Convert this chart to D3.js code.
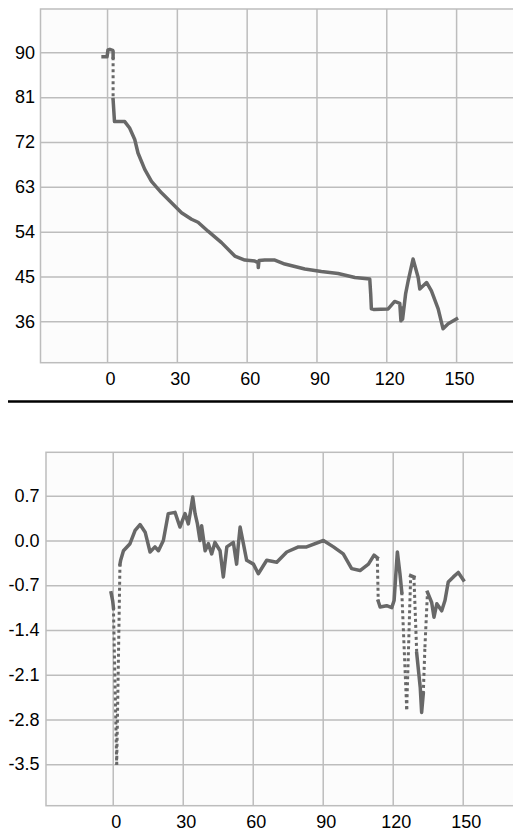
<!DOCTYPE html>
<html>
<head>
<meta charset="utf-8">
<script src="https://cdn.jsdelivr.net/npm/d3@7"></script>
<style>
  body { margin: 0; background: #ffffff; }
  .tick text { font-family: "Liberation Sans", Arial, sans-serif; font-size: 18px; fill: #000; }
</style>
</head>
<body>
<div id="chart"></div>
<script>
// x ticks shared by both panels
var xTicks = [0, 30, 60, 90, 120, 150];
var xLabels = ["0", "30", "60", "90", "120", "150"];

// top panel
var topTicks = [36, 45, 54, 63, 72, 81, 90];
var topLabels = ["36", "45", "54", "63", "72", "81", "90"];
var topX = [-1.7, 0.0, 0.4, 1.2, 2.4, 2.6, 2.6, 2.6, 3.2, 7.6, 9.7, 11.9, 13.3, 16.2, 19.1, 23.4, 27.7,
  32.0, 36.3, 39.1, 43.4, 49.2, 54.9, 59.2, 63.5, 64.9, 65.0, 65.3, 67.8, 72.1, 76.4, 85.0, 92.1,
  99.3, 106.5, 112.9, 113.3, 113.6, 114.5, 120.8, 123.6, 125.8, 126.3, 126.6, 127.0, 128.3, 129.4,
  131.5, 133.7, 134.4, 137.3, 139.4, 142.3, 144.4, 146.6, 150.2];
var topY = [89.1, 89.1, 90.5, 90.6, 90.4, 90.2, 89.0, 80.5, 76.1, 76.1, 74.8, 72.5, 69.8, 66.5, 64.1, 61.8, 59.8,
  57.8, 56.5, 55.9, 54.1, 51.8, 49.1, 48.3, 48.1, 47.8, 46.8, 48.2, 48.3, 48.3, 47.5, 46.5, 46.0,
  45.6, 44.8, 44.5, 41.5, 38.5, 38.4, 38.5, 40.0, 39.6, 36.1, 38.7, 36.4, 41.5, 44.1,
  48.5, 44.8, 42.5, 43.8, 42.1, 38.5, 34.5, 35.5, 36.5];

// bottom panel
var botTicks = [-3.5, -2.8, -2.1, -1.4, -0.7, 0.0, 0.7];
var botLabels = ["-3.5", "-2.8", "-2.1", "-1.4", "-0.7", "0.0", "0.7"];
var botX = [-0.7, 0.0, 0.3, 1.7, 3.1, 3.4, 4.6, 7.4, 9.6, 11.7, 13.9, 16.0, 18.1, 19.6, 21.7, 23.8,
  26.7, 28.8, 31.0, 32.4, 33.4, 34.3, 35.3, 36.3, 37.4, 38.1, 39.6, 41.0, 42.4, 43.8, 46.0, 47.4,
  48.9, 51.7, 53.1, 53.8, 54.6, 56.0, 57.4, 60.3, 62.4, 66.0, 70.3, 74.6, 79.6, 83.1, 90.3, 94.6,
  98.8, 102.4, 106.0, 109.6, 112.0, 113.4, 113.8, 114.6, 117.4, 119.6, 120.6, 121.3, 122.0, 123.1,
  123.9, 126.0, 127.7, 129.1, 130.3, 131.8, 132.4, 133.1, 133.8, 134.9, 136.7, 137.7, 138.9, 141.0,
  142.4, 143.8, 146.0, 148.1, 150.3];
var botY = [-0.82, -0.95, -1.05, -3.51, -0.37, -0.31, -0.16, -0.05, 0.16, 0.25, 0.13, -0.18, -0.10, -0.16, 0.00, 0.42,
  0.44, 0.21, 0.42, 0.26, 0.47, 0.68, 0.42, 0.26, 0.00, 0.23, -0.16, -0.05, -0.21, -0.03, -0.16, -0.57,
  -0.10, -0.03, -0.37, -0.08, 0.21, -0.05, -0.31, -0.37, -0.52, -0.31, -0.34, -0.18, -0.10, -0.10, 0.00, -0.10,
  -0.21, -0.44, -0.47, -0.37, -0.23, -0.27, -0.95, -1.04, -1.02, -1.05, -0.94, -0.55, -0.18, -0.52,
  -0.81, -2.64, -0.55, -0.57, -1.77, -2.30, -2.69, -2.40, -1.67, -0.81, -0.97, -1.20, -0.99, -1.10,
  -0.94, -0.65, -0.57, -0.50, -0.62];

var svg = d3.select("#chart")
  .append("svg")
    .attr("width", 513)
    .attr("height", 840);

// separator between the two panels
svg.append("line")
  .attr("x1", 8).attr("x2", 513)
  .attr("y1", 401.5).attr("y2", 401.5)
  .attr("stroke", "#000").attr("stroke-width", 2.5);

function drawPanel(x, y, yTicks, yLabels, xs, ys, pad) {
  var x0 = x.range()[0], x1 = x.range()[1];
  var yb = y.range()[0], yt = y.range()[1];
  var g = svg.append("g");

  // plot background + frame
  g.append("rect")
    .attr("x", x0).attr("y", yt)
    .attr("width", x1 - x0).attr("height", yb - yt)
    .attr("fill", "#fcfcfc")
    .attr("stroke", "#bdbdbd").attr("stroke-width", 1.5);

  // y gridlines + labels
  var yAxis = g.append("g")
    .attr("transform", "translate(" + x0 + ",0)")
    .call(d3.axisLeft(y).tickValues(yTicks)
      .tickFormat(function(d, i) { return yLabels[i]; })
      .tickSize(-(x1 - x0)).tickPadding(pad));
  yAxis.select(".domain").remove();
  yAxis.selectAll("line").attr("stroke", "#bdbdbd").attr("stroke-width", 1.5);

  // x gridlines + labels
  var xAxis = g.append("g")
    .attr("transform", "translate(0," + yb + ")")
    .call(d3.axisBottom(x).tickValues(xTicks)
      .tickFormat(function(d, i) { return xLabels[i]; })
      .tickSize(-(yb - yt)).tickPadding(10));
  xAxis.select(".domain").remove();
  xAxis.selectAll("line").attr("stroke", "#bdbdbd").attr("stroke-width", 1.5);
  xAxis.selectAll("text").attr("dx", 3);

  // data: long jumps between samples are drawn dotted, the rest as a thick line
  var pts = xs.map(function(v, i) { return {x: v, y: ys[i]}; });
  var line = d3.line()
    .x(function(d) { return x(d.x); })
    .y(function(d) { return y(d.y); });

  var runs = [], dots = [], run = [pts[0]];
  for (var i = 1; i < pts.length; i++) {
    var dx = x(pts[i].x) - x(pts[i - 1].x);
    var dy = y(pts[i].y) - y(pts[i - 1].y);
    if (Math.sqrt(dx * dx + dy * dy) > 40) {
      if (run.length > 1) runs.push(run);
      dots.push([pts[i - 1], pts[i]]);
      run = [pts[i]];
    } else {
      run.push(pts[i]);
    }
  }
  if (run.length > 1) runs.push(run);

  g.selectAll("path.solid").data(runs).enter().append("path")
    .attr("class", "solid")
    .attr("d", line)
    .attr("fill", "none")
    .attr("stroke", "#686868")
    .attr("stroke-width", 3.5)
    .attr("stroke-linejoin", "round")
    .attr("stroke-linecap", "square");

  g.selectAll("path.dotted").data(dots).enter().append("path")
    .attr("class", "dotted")
    .attr("d", line)
    .attr("fill", "none")
    .attr("stroke", "#686868")
    .attr("stroke-width", 3)
    .attr("stroke-dasharray", "3,3");
}

// top panel scales
var xTopScale = d3.scaleLinear().domain([-28.6, 180]).range([40.5, 525.9]);
var yTopScale = d3.scaleLinear().domain([27.7, 98.7]).range([362.7, 9]);
drawPanel(xTopScale, yTopScale, topTicks, topLabels, topX, topY, 5.5);

// bottom panel scales
var xBotScale = d3.scaleLinear().domain([-28.6, 180]).range([46, 532.7]);
var yBotScale = d3.scaleLinear().domain([-4.15, 1.38]).range([805.7, 452.3]);
drawPanel(xBotScale, yBotScale, botTicks, botLabels, botX, botY, 6.5);
</script>
</body>
</html>
